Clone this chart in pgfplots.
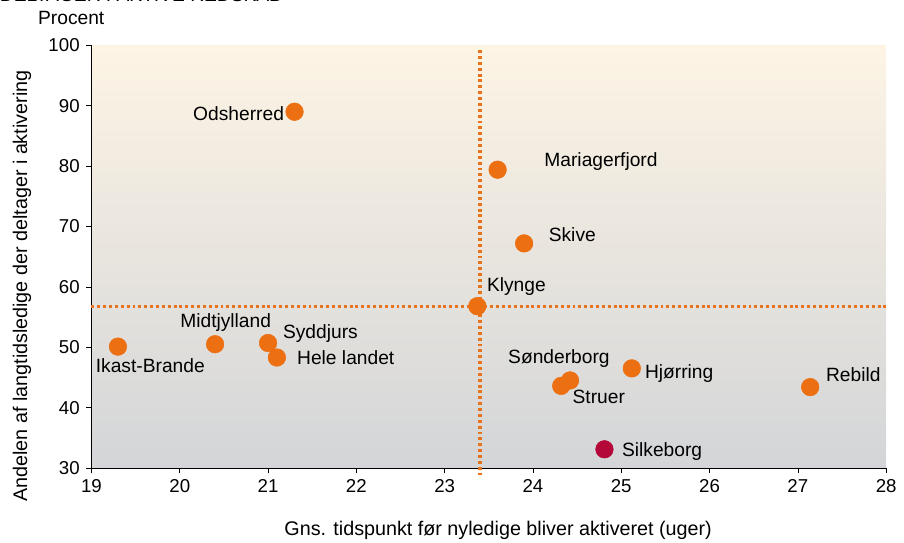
\documentclass[border=0pt]{standalone}
\usepackage{pgfplots}
\pgfplotsset{compat=1.18}
\usepackage{fontspec}
\setmainfont{Liberation Sans}
\definecolor{dotor}{HTML}{E8731A}
\definecolor{ptor}{HTML}{EC6F12}
\definecolor{silk}{HTML}{B30838}
\definecolor{bgtop}{HTML}{FDF4E4}
\definecolor{bgbot}{HTML}{D3D5D8}
\tikzset{lab/.style={font=\fontsize{14.4}{16}\selectfont, inner sep=0pt, outer sep=0pt}}
\begin{document}
\fontsize{14}{16}\selectfont
\begin{tikzpicture}
\begin{axis}[
  at={(0,0)}, anchor=south west,
  scale only axis, width=596pt, height=317pt,
  xmin=19, xmax=28, ymin=30, ymax=100,
  xtick={19,...,28}, ytick={30,40,...,100},
  axis x line*=bottom, axis y line*=left,
  axis line style={black, line width=0.6pt},
  tick align=outside, major tick length=4pt,
  tick style={black, line width=0.5pt},
  ticklabel style={font=\fontsize{14}{16}\selectfont},
  /pgf/number format/assume math mode=true,
  clip=false,
  axis background/.style={shade, top color=bgtop, bottom color=bgbot},
]
\addplot[dotor, line width=2.4pt, dash pattern=on 2.2pt off 2.2pt] coordinates {(19,56.7) (28,56.7)};
\addplot[dotor, line width=2.4pt, dash pattern=on 2.2pt off 2.2pt] coordinates {(23.4,99.2) (23.4,28.8)};
\addplot[only marks, mark=*, mark size=6.6pt, mark options={fill=ptor, draw=ptor}] coordinates {
(21.3,89.0) (23.6,79.4) (23.9,67.2) (23.37,56.8) (20.4,50.5) (21.0,50.7) (21.1,48.3) (19.3,50.1) (24.42,44.5) (24.32,43.6) (25.12,46.5) (27.14,43.4)};
\addplot[only marks, mark=*, mark size=6.6pt, mark options={fill=silk, draw=silk}] coordinates {(24.81,33.1)};
\node[lab, anchor=east] at (axis cs:21.18,88.7) {Odsherred};
\node[lab, anchor=west] at (axis cs:24.13,80.8) {Mariagerfjord};
\node[lab, anchor=west] at (axis cs:24.18,68.7) {Skive};
\node[lab, anchor=west] at (axis cs:23.48,60.1) {Klynge};
\node[lab, anchor=center] at (axis cs:20.52,54.1) {Midtjylland};
\node[lab, anchor=west] at (axis cs:21.17,52.2) {Syddjurs};
\node[lab, anchor=west] at (axis cs:21.33,48.3) {Hele landet};
\node[lab, anchor=west] at (axis cs:19.05,46.9) {Ikast-Brande};
\node[lab, anchor=west] at (axis cs:23.72,48.2) {Sønderborg};
\node[lab, anchor=west] at (axis cs:24.45,41.7) {Struer};
\node[lab, anchor=west] at (axis cs:25.27,45.7) {Hjørring};
\node[lab, anchor=west] at (axis cs:27.32,45.5) {Rebild};
\node[lab, anchor=west] at (axis cs:25.01,32.8) {Silkeborg};
\end{axis}
\node[lab, anchor=west] at (-40pt,337.5pt) {Procent};
\node[lab, rotate=90, font=\fontsize{14.8}{16}\selectfont] at (-52pt,136.5pt) {Andelen af langtidsledige der deltager i aktivering};
\node[lab, font=\fontsize{14.8}{16}\selectfont] at (305pt,-46.5pt) {Gns. tidspunkt før nyledige bliver aktiveret (uger)};
\node[lab, anchor=base west] at (-68.6pt,350pt) {DELTAGER I AKTIVE REDSKAB};
\pgfresetboundingbox
\useasboundingbox (-68.6pt,-56.25pt) rectangle (609.4pt,351pt);
\end{tikzpicture}
\end{document}
